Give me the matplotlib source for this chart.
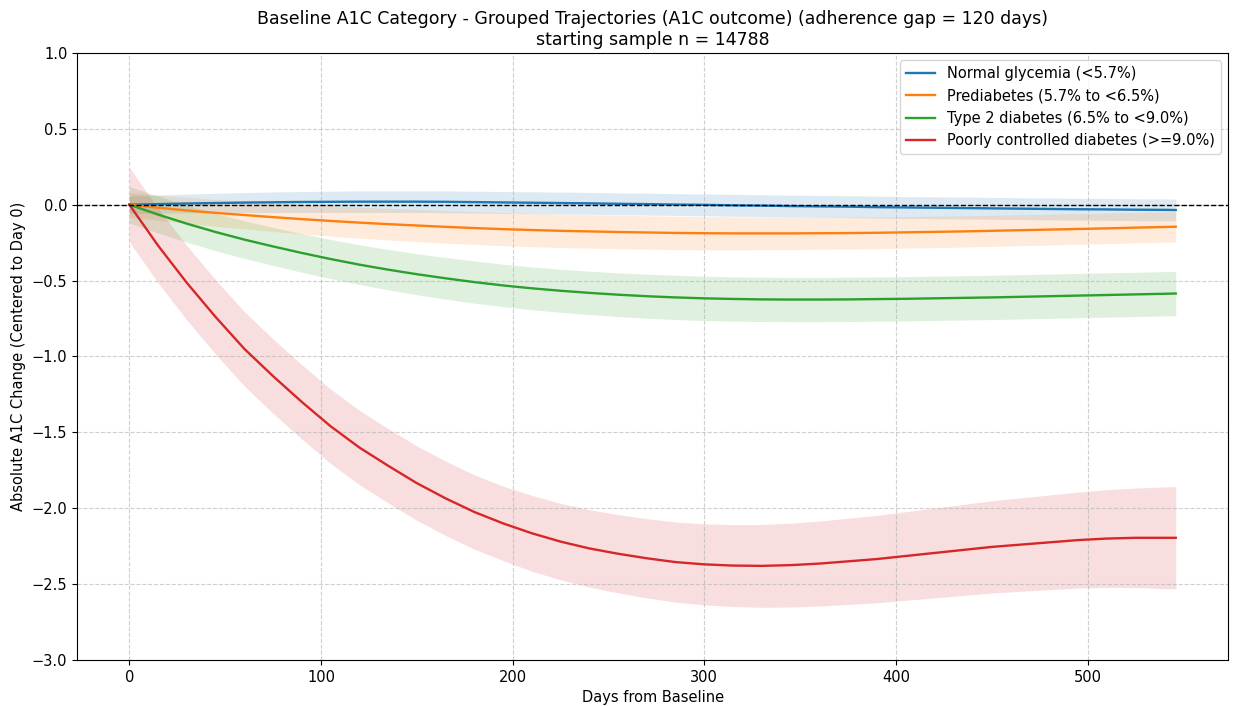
import matplotlib
matplotlib.use("Agg")
import matplotlib.pyplot as plt
import numpy as np

days = [0, 15, 30, 45, 60, 75, 90, 105, 120, 135, 150, 165, 180, 195, 210, 225, 240,
        255, 270, 285, 300, 315, 330, 345, 360, 375, 390, 405, 420, 435, 450, 465,
        480, 495, 510, 525, 540, 546]

labels = ["Normal glycemia (<5.7%)",
          "Prediabetes (5.7% to <6.5%)",
          "Type 2 diabetes (6.5% to <9.0%)",
          "Poorly controlled diabetes (>=9.0%)"]
colors = ["#1f77b4", "#ff7f0e", "#2ca02c", "#d62728"]

normal_mean = [0.0, 0.004, 0.008, 0.011, 0.014, 0.016, 0.018, 0.019, 0.020, 0.020, 0.020,
               0.019, 0.017, 0.015, 0.013, 0.011, 0.009, 0.006, 0.004, 0.001, -0.001,
               -0.004, -0.006, -0.009, -0.011, -0.013, -0.016, -0.018, -0.020, -0.022,
               -0.024, -0.026, -0.028, -0.030, -0.031, -0.033, -0.034, -0.035]
normal_ci = [0.058, 0.060, 0.062, 0.064, 0.066, 0.068, 0.069, 0.070, 0.071, 0.071, 0.071,
             0.072, 0.072, 0.072, 0.072, 0.072, 0.072, 0.072, 0.072, 0.072, 0.072, 0.072,
             0.072, 0.072, 0.072, 0.072, 0.072, 0.072, 0.072, 0.072, 0.072, 0.072, 0.072,
             0.072, 0.072, 0.072, 0.072, 0.072]

pre_mean = [0.0, -0.020, -0.038, -0.054, -0.068, -0.082, -0.095, -0.107, -0.118, -0.128,
            -0.137, -0.146, -0.154, -0.161, -0.167, -0.172, -0.176, -0.180, -0.183, -0.186,
            -0.188, -0.189, -0.189, -0.189, -0.188, -0.187, -0.185, -0.182, -0.179, -0.176,
            -0.172, -0.168, -0.164, -0.160, -0.156, -0.151, -0.147, -0.145]
pre_ci = [0.080, 0.083, 0.086, 0.089, 0.092, 0.095, 0.098, 0.100, 0.102, 0.104, 0.106,
          0.107, 0.108, 0.109, 0.110, 0.110, 0.110, 0.110, 0.110, 0.110, 0.110, 0.109,
          0.108, 0.107, 0.106, 0.105, 0.105, 0.104, 0.104, 0.103, 0.103, 0.102, 0.102,
          0.101, 0.101, 0.100, 0.100, 0.100]

t2d_mean = [0.0, -0.065, -0.125, -0.180, -0.230, -0.275, -0.318, -0.358, -0.395, -0.428,
            -0.458, -0.485, -0.510, -0.532, -0.551, -0.567, -0.581, -0.593, -0.603, -0.611,
            -0.617, -0.621, -0.624, -0.625, -0.625, -0.624, -0.622, -0.620, -0.617, -0.614,
            -0.611, -0.607, -0.603, -0.599, -0.595, -0.591, -0.587, -0.585]
t2d_ci = [0.120, 0.121, 0.122, 0.123, 0.124, 0.125, 0.127, 0.129, 0.131, 0.133, 0.135,
          0.137, 0.139, 0.140, 0.141, 0.142, 0.143, 0.144, 0.145, 0.146, 0.146, 0.146,
          0.146, 0.146, 0.146, 0.146, 0.146, 0.146, 0.146, 0.146, 0.146, 0.146, 0.146,
          0.146, 0.146, 0.146, 0.146, 0.146]

poor_mean = [0.0, -0.27, -0.515, -0.74, -0.95, -1.13, -1.30, -1.46, -1.60, -1.72, -1.835,
             -1.935, -2.025, -2.10, -2.165, -2.22, -2.265, -2.30, -2.33, -2.355, -2.37,
             -2.378, -2.38, -2.375, -2.365, -2.35, -2.335, -2.315, -2.295, -2.275, -2.255,
             -2.24, -2.225, -2.21, -2.20, -2.195, -2.195, -2.195]
poor_ci = [0.245, 0.245, 0.245, 0.245, 0.245, 0.245, 0.245, 0.245, 0.245, 0.245, 0.245,
           0.245, 0.245, 0.245, 0.250, 0.252, 0.255, 0.258, 0.261, 0.264, 0.267, 0.270,
           0.273, 0.276, 0.280, 0.284, 0.288, 0.292, 0.296, 0.300, 0.304, 0.308, 0.312,
           0.316, 0.322, 0.328, 0.335, 0.337]

means = [normal_mean, pre_mean, t2d_mean, poor_mean]
cis = [normal_ci, pre_ci, t2d_ci, poor_ci]

plt.rcParams["font.size"] = 10.5

fig = plt.figure(figsize=(12.33, 7.06), dpi=100)
ax = fig.add_axes([0.0625, 0.0652, 0.9335, 0.8598])

x = np.array(days)
for lab, col, m, c in zip(labels, colors, means, cis):
    m = np.array(m)
    c = np.array(c)
    ax.fill_between(x, m - c, m + c, color=col, alpha=0.15, linewidth=0)
    ax.plot(x, m, color=col, linewidth=1.7, label=lab)

ax.axhline(0, color="black", linestyle="--", linewidth=1)
ax.set_ylim(-3, 1)
ax.set_xlim(-27.3, 573.3)
ax.grid(True, linestyle="--", color="#b0b0b0", alpha=0.6)
ax.set_xlabel("Days from Baseline")
ax.set_ylabel("Absolute A1C Change (Centered to Day 0)")
ax.set_title("Baseline A1C Category - Grouped Trajectories (A1C outcome) (adherence gap = 120 days)\nstarting sample n = 14788", fontsize=12.5)
ax.legend(loc="upper right")

fig.savefig("out.png", dpi=100)
